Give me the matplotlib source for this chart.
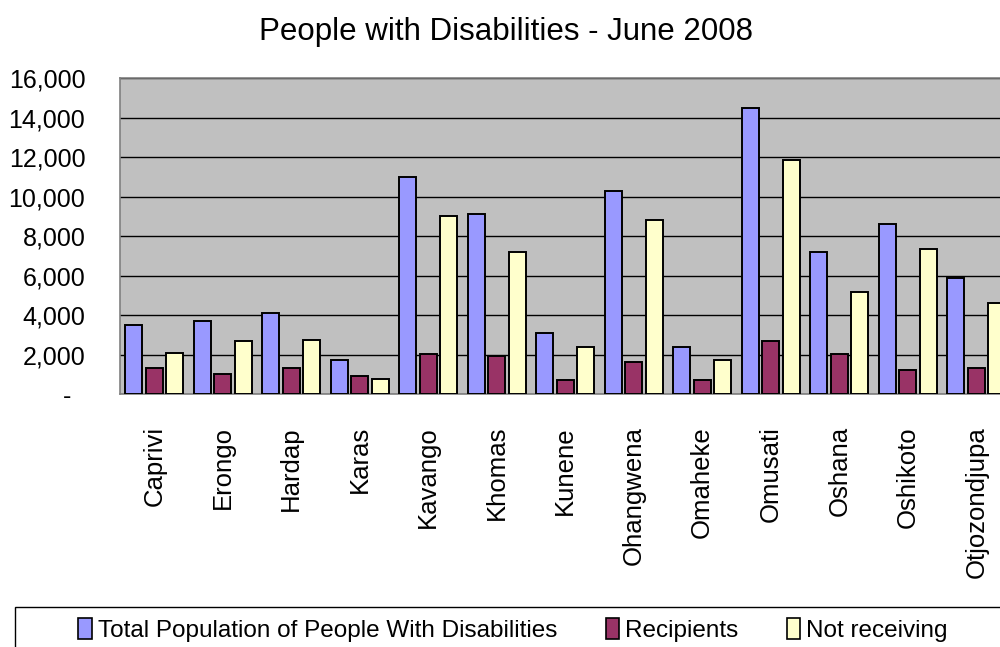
import numpy as np
import matplotlib.pyplot as plt
from matplotlib.patches import Rectangle, Patch

plt.rcParams['font.family'] = ['Liberation Sans', 'DejaVu Sans']

regions = ["Caprivi", "Erongo", "Hardap", "Karas", "Kavango", "Khomas", "Kunene",
           "Ohangwena", "Omaheke", "Omusati", "Oshana", "Oshikoto", "Otjozondjupa"]
total = [3500, 3700, 4100, 1700, 11000, 9100, 3100, 10300, 2400, 14500, 7200, 8600, 5900]
recipients = [1300, 1000, 1300, 900, 2050, 1950, 700, 1600, 700, 2700, 2050, 1200, 1300]
not_receiving = [2100, 2700, 2750, 750, 9000, 7200, 2400, 8800, 1700, 11850, 5150, 7350, 4600]

series_names = ["Total Population of People With Disabilities", "Recipients", "Not receiving"]
colors = ["#9999FF", "#993366", "#FFFFCC"]

fig = plt.figure(figsize=(10, 6.47), dpi=100)
# plot area runs past the right edge of the picture, like the original crop
ax = fig.add_axes([0.12, 0.391, 0.8905, 0.488])
ax.set_facecolor("#C0C0C0")

x = np.arange(len(regions))
w = 0.25
off = 0.3
for i, vals in enumerate([total, recipients, not_receiving]):
    ax.bar(x + (i - 1) * off, vals, width=w, color=colors[i], edgecolor="black",
           linewidth=1.4, zorder=3)

ax.set_xlim(-0.5, len(regions) - 0.5)
ax.set_ylim(0, 16000)
yt = np.arange(0, 16001, 2000)
ax.set_yticks(yt)
ax.set_yticklabels(["-  "] + [f"{v:,}" for v in yt[1:]], fontsize=18)
ax.yaxis.grid(True, color="black", linewidth=1.0, zorder=1)
ax.set_axisbelow(True)
ax.tick_params(axis="y", length=0, pad=25)

ax.set_xticks(x)
ax.set_xticklabels(regions, rotation=90, fontsize=18.5)
ax.tick_params(axis="x", length=0, pad=23)

for s in ax.spines.values():
    s.set_color("#808080")
    s.set_linewidth(1.2)

fig.text(0.506, 0.951, "People with Disabilities - June 2008", ha="center", va="center",
         fontsize=22.5)

# legend box
fig.add_artist(Rectangle((0.015, -0.05), 1.0, 1 - 607 / 647 + 0.05, transform=fig.transFigure,
                         fill=False, edgecolor="black", linewidth=1.0))
handles = [Patch(facecolor=c, edgecolor="black", linewidth=1.2) for c in colors]
fig.legend(handles, series_names, loc="center", bbox_to_anchor=(0.513, 0.026), ncol=3,
           frameon=False, fontsize=17.5, handlelength=0.55, handleheight=0.9,
           handletextpad=0.25, columnspacing=2.0)

fig.savefig("out.png", dpi=100)
